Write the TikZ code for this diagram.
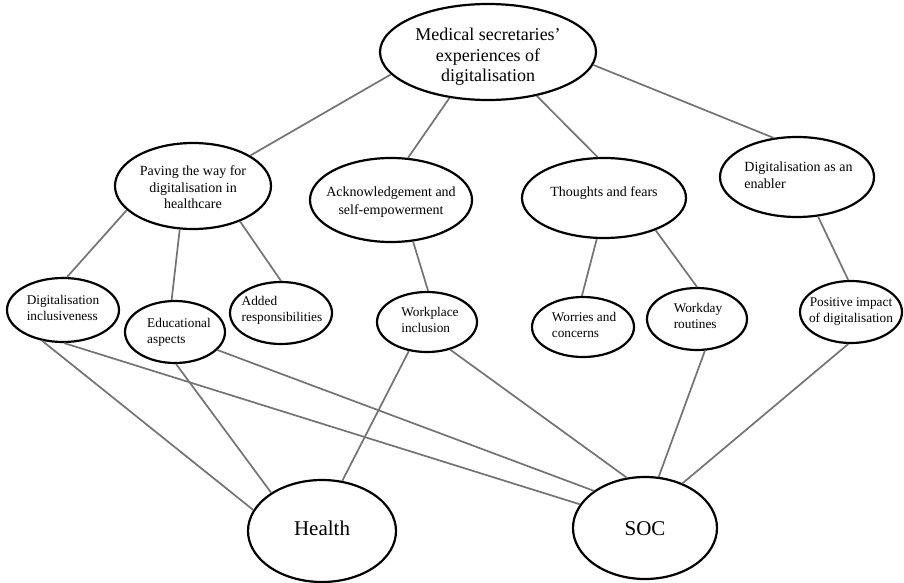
\documentclass[tikz,border=0pt]{standalone}
\usepackage{fontspec}
\setmainfont{Liberation Serif}
\usetikzlibrary{shapes.geometric}
\newcommand\tx[5]{\smash{\makebox[0pt]{\fontsize{#1}{#2}\selectfont\raisebox{\dimexpr-0.25em+#4pt\relax}{\begin{tabular}[c]{@{}#3@{}}#5\end{tabular}}}}}
\tikzset{
  ell/.style={draw, line width=2.2pt, ellipse, inner sep=0pt, fill=white},
  con/.style={draw=black!55, line width=1.7pt}
}
\begin{document}
\begin{tikzpicture}[x=1pt,y=-1pt]
\useasboundingbox[fill=white] (0,0) rectangle (904,583);
% nodes
\node[ell, minimum width=216pt, minimum height=96pt] (top) at (488,52) {\tx{18}{20.5}{c}{-5}{Medical secretaries’\\experiences of\\digitalisation}};
\node[ell, minimum width=156pt, minimum height=86pt] (pav) at (193,186) {\tx{14}{16.5}{c}{-3}{Paving the way for\\digitalisation in\\healthcare}};
\node[ell, minimum width=162pt, minimum height=84pt] (ack) at (391,200) {\tx{14}{17.5}{c}{-2}{Acknowledgement and\\self-empowerment}};
\node[ell, minimum width=164pt, minimum height=80pt] (tho) at (604,198) {\tx{14}{16.5}{c}{5}{Thoughts and fears}};
\node[ell, minimum width=154pt, minimum height=80pt] (ena) at (797,177) {\tx{14}{17}{l}{0}{\hspace*{3pt}Digitalisation as an\\\hspace*{3pt}enabler}};
\node[ell, minimum width=112pt, minimum height=64pt] (dig) at (63,310) {\tx{13.3}{16}{l}{0}{Digitalisation\\inclusiveness}};
\node[ell, minimum width=100pt, minimum height=62pt] (edu) at (175,332) {\tx{13.3}{16}{l}{-1}{\hspace*{8pt}Educational\\\hspace*{8pt}aspects}};
\node[ell, minimum width=102pt, minimum height=62pt] (add) at (281,313) {\tx{13.3}{16}{l}{2}{\hspace*{2pt}Added\\\hspace*{2pt}responsibilities}};
\node[ell, minimum width=100pt, minimum height=60pt] (wrk) at (427,322) {\tx{13.3}{16}{l}{0}{\hspace*{6pt}Workplace\\\hspace*{6pt}inclusion}};
\node[ell, minimum width=102pt, minimum height=60pt] (wor) at (583,327) {\tx{13.3}{16}{l}{0}{\hspace*{2pt}Worries and\\\hspace*{2pt}concerns}};
\node[ell, minimum width=100pt, minimum height=62pt] (day) at (697,319) {\tx{13.3}{16}{l}{1}{\hspace*{2pt}Workday\\\hspace*{2pt}routines}};
\node[ell, minimum width=102pt, minimum height=62pt] (pos) at (851,312) {\tx{13.3}{16}{c}{0}{Positive impact\\of digitalisation}};
\node[ell, minimum width=148pt, minimum height=102pt] (hea) at (322,531) {\tx{21}{24}{c}{0}{Health}};
\node[ell, minimum width=144pt, minimum height=102pt] (soc) at (645,528) {\tx{21}{24}{c}{-3}{SOC}};
% connectors
\draw[con] (top.193) -- (pav.28);
\draw[con] (top.230) -- (ack.68);
\draw[con] (top.318) -- (tho.99);
\draw[con] (top.353) -- (ena.121);
\draw[con] (pav.200) -- (dig.83);
\draw[con] (pav.253) -- (edu.96);
\draw[con] (pav.323) -- (add.90);
\draw[con] (ack.298) -- (wrk.88);
\draw[con] (tho.260) -- (wor.92);
\draw[con] (tho.328) -- (day.90);
\draw[con] (ena.298) -- (pos.95);
\draw[con] (dig.236) -- (hea.163);
\draw[con] (dig.272) -- (soc.160);
\draw[con] (edu.272) -- (hea.143);
\draw[con] (edu.337) -- (soc.144);
\draw[con] (wrk.238) -- (hea.68);
\draw[con] (wrk.310) -- (soc.110);
\draw[con] (day.284) -- (soc.75);
\draw[con] (pos.265) -- (soc.50);
\end{tikzpicture}
\end{document}
